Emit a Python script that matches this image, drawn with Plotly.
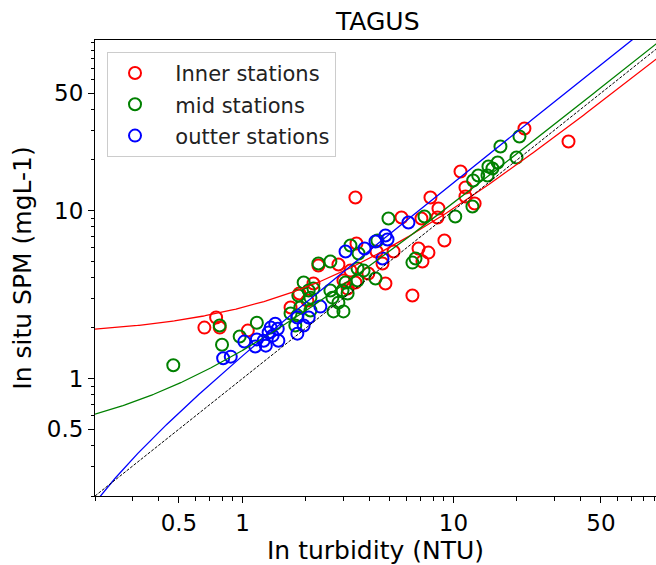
import numpy as np
import plotly.graph_objects as go

# ---- data ----
inner_x = [0.66, 0.75, 0.78, 1.06, 1.69, 1.86, 2.17, 2.03, 2.29, 2.85, 3.15, 3.01, 3.43, 3.47, 3.25,
           3.43, 3.95, 4.32, 4.61, 4.76, 5.20, 5.67, 6.39, 6.83, 7.05, 7.13, 7.61, 7.78, 8.40, 8.49,
           9.06, 10.8, 11.4, 11.4, 12.6, 21.7, 35.1]
inner_y = [2.01, 2.31, 2.01, 1.93, 2.65, 3.21, 3.68, 2.91, 4.71, 4.77, 3.43, 3.83, 11.95, 6.36, 4.39,
           3.73, 4.22, 5.70, 4.84, 3.68, 5.70, 9.09, 3.12, 5.94, 8.96, 4.97, 5.62, 11.95, 9.09, 10.28,
           6.63, 17.07, 13.71, 12.11, 11.01, 30.77, 25.75]

mid_x = [0.47, 0.78, 0.80, 0.97, 1.17, 1.69, 1.82, 1.78, 1.84, 1.95, 2.17, 2.29, 2.61, 2.61, 2.70,
         2.98, 2.85, 2.67, 3.01, 3.15, 3.25, 3.51, 3.51, 3.75, 3.55, 4.27, 4.36, 4.92, 6.39, 6.61,
         7.29, 10.2, 12.3, 12.4, 13.1, 14.5, 14.65, 15.3, 16.2, 16.7, 19.9, 20.55, 2.06, 1.88, 2.10,
         3.08, 2.10]
mid_y = [1.20, 2.07, 1.59, 1.78, 2.15, 2.44, 2.37, 2.07, 3.12, 3.73, 3.43, 4.84, 4.97, 3.34, 2.51,
         3.34, 2.83, 3.03, 2.51, 3.21, 6.19, 4.52, 3.83, 4.39, 5.55, 3.94, 6.63, 8.96, 4.90, 5.18,
         9.21, 9.21, 10.56, 15.09, 16.16, 16.16, 18.28, 17.8, 19.31, 24.04, 20.68, 27.57, 3.34, 2.65, 2.54,
         3.73, 3.03]

outer_x = [0.81, 0.88, 1.02, 1.17, 1.15, 1.29, 1.26, 1.33, 1.39, 1.43, 1.47, 1.48, 1.36, 1.82, 1.82,
           2.06, 1.95, 2.34, 3.08, 3.79, 4.27, 4.61, 4.76, 4.87, 6.12]
outer_y = [1.32, 1.35, 1.66, 1.71, 1.55, 1.57, 1.68, 1.88, 1.80, 2.12, 1.98, 1.68, 2.01, 1.85, 2.31,
           2.31, 2.07, 2.68, 5.70, 5.94, 6.54, 5.18, 7.10, 6.72, 8.48]

# linear fits y = a + b*x
inner_fit = (1.8, 0.85)
mid_fit = (0.4, 1.07)
outer_fit = (-0.113, 1.477)

major_ticks = [0.5, 1, 10, 50]
major_text = ["0.5", "1", "10", "50"]
minor_ticks = [0.2, 0.3, 0.4, 0.6, 0.7, 0.8, 0.9, 2, 3, 4, 5, 6, 7, 8, 9,
               20, 30, 40, 60, 70, 80, 90, 100]

FONT = "DejaVu Sans"
xgrid = np.logspace(np.log10(0.2), np.log10(120), 400)

fig = go.Figure()

series = [
    ("Inner stations", inner_x, inner_y, "red", inner_fit),
    ("mid stations", mid_x, mid_y, "green", mid_fit),
    ("outter stations", outer_x, outer_y, "blue", outer_fit),
]

NB = "\u00a0\u00a0"
for name, xs, ys, col, (a, b) in series:
    fig.add_trace(go.Scatter(
        x=xs, y=ys, mode="markers", name=NB + name, legendgroup=name,
        marker=dict(symbol="circle-open", size=12, color=col, line=dict(width=2, color=col)),
    ))

for name, xs, ys, col, (a, b) in series:
    yfit = a + b * xgrid
    m = yfit > 0
    fig.add_trace(go.Scatter(
        x=xgrid[m], y=yfit[m], mode="lines", showlegend=False,
        line=dict(color=col, width=1.3),
    ))

# 1:1 line
fig.add_trace(go.Scatter(
    x=[0.2, 120], y=[0.2, 120], mode="lines", showlegend=False,
    line=dict(color="black", width=1, dash="3px,1.5px"),
))

axis_common = dict(
    type="log", showgrid=False, zeroline=False,
    showline=True, linecolor="black", linewidth=1,
    ticks="outside", ticklen=6, tickwidth=1, tickcolor="black",
    tickmode="array", tickvals=major_ticks, ticktext=major_text,
    tickfont=dict(family=FONT, size=23, color="black"),
    minor=dict(tickmode="array", tickvals=minor_ticks, ticks="outside",
               ticklen=3.5, tickwidth=1, tickcolor="black", showgrid=False),
)

fig.update_layout(
    width=656, height=565,
    margin=dict(l=95, r=0, t=40, b=69),
    paper_bgcolor="white", plot_bgcolor="white",
    font=dict(family=FONT, color="black"),
    title=dict(text="TAGUS", x=0.504, xref="paper", xanchor="center",
               y=1 - 21 / 565, yref="container", yanchor="middle",
               font=dict(family=FONT, size=25, color="black")),
    xaxis=dict(axis_common, range=[np.log10(0.2), 1.960], mirror=True,
               title=dict(text="In turbidity (NTU)", font=dict(family=FONT, size=25), standoff=5)),
    yaxis=dict(axis_common, range=[np.log10(0.2), 2.015],
               title=dict(text="In situ SPM (mgL-1)", font=dict(family=FONT, size=25), standoff=8)),
    legend=dict(x=0.0214, y=0.974, xanchor="left", yanchor="top",
                bgcolor="rgba(255,255,255,0.8)", bordercolor="#cccccc", borderwidth=1,
                font=dict(family=FONT, size=21, color="#222222"),
                itemwidth=44, tracegroupgap=1),
    showlegend=True,
)

fig.write_html("out.html")
